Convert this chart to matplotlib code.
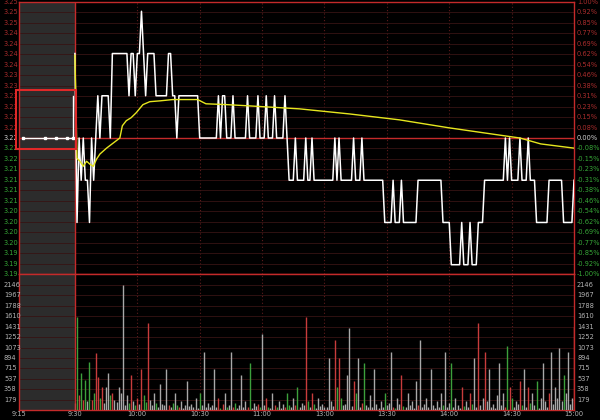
import numpy as np
import matplotlib
matplotlib.use('Agg')
import matplotlib.pyplot as plt
from matplotlib.patches import Rectangle
from matplotlib.transforms import blended_transform_factory as btf

prev_close = 3.22

# pre-market (minutes after 9:15) and prices
pre_times = [1, 7, 10, 13, 14.6, 14.6]
pre_prices = [3.22, 3.22, 3.22, 3.22, 3.22, 3.23]

# minute prices 9:30 .. 15:00 (241 points)
price = [
    3.24, 3.20, 3.22, 3.21, 3.22, 3.21, 3.21, 3.20, 3.22, 3.21,
    3.22, 3.23, 3.22, 3.23, 3.23, 3.23, 3.23, 3.22, 3.24, 3.24,
    3.24, 3.24, 3.24, 3.24, 3.24, 3.24, 3.23, 3.24, 3.24, 3.23,
    3.24, 3.24, 3.25, 3.24, 3.23, 3.24, 3.24, 3.24, 3.24, 3.23,
    3.23, 3.23, 3.23, 3.23, 3.23, 3.24, 3.24, 3.23, 3.23, 3.22,
    3.23, 3.23, 3.23, 3.23, 3.23, 3.23, 3.23, 3.23, 3.23, 3.23,
    3.22, 3.22, 3.22, 3.22, 3.22, 3.22, 3.22, 3.22, 3.22, 3.23,
    3.22, 3.23, 3.23, 3.22, 3.22, 3.22, 3.23, 3.22, 3.22, 3.22,
    3.22, 3.22, 3.22, 3.23, 3.22, 3.22, 3.22, 3.22, 3.23, 3.22,
    3.22, 3.22, 3.23, 3.22, 3.22, 3.22, 3.23, 3.22, 3.22, 3.22,
    3.22, 3.23, 3.22, 3.21, 3.21, 3.21, 3.22, 3.21, 3.21, 3.21,
    3.21, 3.22, 3.21, 3.21, 3.22, 3.21, 3.21, 3.21, 3.21, 3.21,
    3.21, 3.21, 3.21, 3.21, 3.21, 3.22, 3.21, 3.22, 3.21, 3.21,
    3.21, 3.21, 3.21, 3.21, 3.22, 3.21, 3.21, 3.21, 3.22, 3.21,
    3.21, 3.21, 3.21, 3.21, 3.21, 3.21, 3.21, 3.21, 3.21, 3.20,
    3.20, 3.20, 3.20, 3.21, 3.20, 3.20, 3.20, 3.21, 3.20, 3.20,
    3.20, 3.20, 3.20, 3.20, 3.20, 3.21, 3.21, 3.21, 3.21, 3.21,
    3.21, 3.21, 3.21, 3.21, 3.21, 3.21, 3.21, 3.20, 3.20, 3.20,
    3.20, 3.19, 3.19, 3.19, 3.19, 3.19, 3.20, 3.19, 3.19, 3.19,
    3.20, 3.19, 3.19, 3.19, 3.20, 3.20, 3.20, 3.21, 3.21, 3.21,
    3.21, 3.21, 3.21, 3.21, 3.21, 3.21, 3.21, 3.22, 3.21, 3.22,
    3.21, 3.21, 3.21, 3.21, 3.22, 3.21, 3.21, 3.21, 3.22, 3.21,
    3.21, 3.21, 3.20, 3.20, 3.20, 3.20, 3.20, 3.20, 3.21, 3.21,
    3.21, 3.21, 3.21, 3.21, 3.21, 3.20, 3.20, 3.20, 3.20, 3.20,
    3.21,
]

# average price line (minute, price)
avg_min = [0, 1, 2.4, 4, 5.6, 7.2, 8.8, 10.4, 12, 15.2, 18.4, 21.6, 22.8, 24.7,
           27, 29.5, 32.7, 36, 41, 47, 59, 63, 73, 84, 108, 132, 156, 180, 204,
           214, 224, 240]
avg_price = [3.2396, 3.2152, 3.2145, 3.2133, 3.2145, 3.2138, 3.2133, 3.2150,
             3.2162, 3.2176, 3.2188, 3.2200, 3.2229, 3.2241, 3.2248, 3.2260,
             3.2279, 3.2286, 3.2288, 3.2291, 3.2291, 3.2281, 3.2279, 3.2276,
             3.2269, 3.2257, 3.2243, 3.2224, 3.2207, 3.2200, 3.2186, 3.2176]

# minute volumes
volume = [
    120, 1600, 250, 640, 180, 515, 150, 824, 170, 300,
    978, 566, 200, 395, 120, 387, 635, 260, 300, 180,
    140, 400, 300, 2146, 90, 250, 120, 600, 150, 80,
    200, 110, 700, 250, 140, 1500, 180, 90, 300, 120,
    60, 450, 100, 80, 700, 90, 50, 120, 300, 80,
    60, 150, 40, 90, 500, 70, 100, 60, 200, 40,
    300, 80, 1000, 60, 120, 50, 90, 700, 60, 200,
    40, 100, 300, 60, 80, 1000, 50, 120, 40, 90,
    600, 60, 150, 50, 800, 40, 120, 70, 100, 60,
    1300, 90, 200, 60, 40, 300, 80, 50, 150, 40,
    100, 60, 300, 80, 50, 200, 90, 400, 60, 120,
    80, 1600, 150, 60, 300, 100, 40, 200, 70, 100,
    60, 50, 900, 150, 70, 1200, 400, 900, 200, 80,
    100, 600, 1400, 70, 500, 300, 900, 60, 120, 800,
    90, 50, 250, 60, 700, 100, 40, 150, 60, 300,
    80, 120, 1000, 60, 40, 200, 100, 600, 70, 50,
    300, 90, 150, 40, 500, 80, 1200, 60, 100, 200,
    50, 700, 90, 40, 150, 60, 300, 80, 1000, 50,
    120, 800, 60, 200, 90, 40, 400, 70, 150, 60,
    300, 100, 900, 60, 1500, 80, 200, 1000, 150, 700,
    60, 100, 40, 250, 800, 90, 300, 60, 1100, 400,
    200, 60, 150, 100, 500, 90, 700, 60, 400, 120,
    300, 90, 500, 40, 200, 800, 150, 60, 300, 1000,
    100, 400, 200, 1073, 150, 600, 300, 1000, 100, 200,
    1430,
]

time_labels = ['9:15', '9:30', '10:00', '10:30', '11:00', '13:00', '13:30', '14:00', '14:30', '15:00']
time_pos = [-26.9, 0, 30, 60, 90, 120, 150, 180, 210, 240]

left_price_labels = ['3.25', '3.25', '3.25', '3.24', '3.24', '3.24', '3.24', '3.23', '3.23',
                     '3.23', '3.23', '3.22', '3.22', '3.22', '3.22', '3.22', '3.21', '3.21',
                     '3.21', '3.21', '3.20', '3.20', '3.20', '3.20', '3.19', '3.19', '3.19']
right_pct_labels = ['1.00%', '0.92%', '0.85%', '0.77%', '0.69%', '0.62%', '0.54%', '0.46%',
                    '0.38%', '0.31%', '0.23%', '0.15%', '0.08%', '0.00%', '-0.08%', '-0.15%',
                    '-0.23%', '-0.31%', '-0.38%', '-0.46%', '-0.54%', '-0.62%', '-0.69%',
                    '-0.77%', '-0.85%', '-0.92%', '-1.00%']
vol_labels = ['2146', '1967', '1788', '1610', '1431', '1252', '1073', '894', '715', '537', '358', '179']
vol_max = 2146

# ---------------------------------------------------------------------------
W_PX, H_PX = 600, 420
fig = plt.figure(figsize=(6, 4.2), dpi=100, facecolor='black')
L = 19 / W_PX
R = 574 / W_PX
ax = fig.add_axes([L, 1 - 274 / H_PX, R - L, 272 / H_PX])
axv = fig.add_axes([L, 1 - 410 / H_PX, R - L, 136 / H_PX])

RED = '#c42a2a'
GRID = '#361414'
GREEN_T = '#36a636'
RED_T = '#a82c2c'
GRAY_T = '#b4b4b4'
FS = 4.8

for a in (ax, axv):
    a.set_facecolor('black')
    a.set_xlim(-26.9, 240)
    a.set_xticks([])
    a.set_yticks([])
    for s in a.spines.values():
        s.set_color(RED)
        s.set_linewidth(1.0)
    a.axvspan(-26.9, 0, color='#2c2c2c', zorder=0, lw=0)
    a.axvline(0, color=RED, lw=1.0, zorder=3)
    for t in time_pos[2:-1]:
        a.axvline(t, color='#5e1c1c', lw=0.8, ls=(0, (1, 2)), zorder=1)

lo = prev_close * 0.99
hi = prev_close * 1.01
ax.set_ylim(lo, hi)
levels = [prev_close * (1 + k / 1300) for k in range(13, -14, -1)]
for k, lv in zip(range(13, -14, -1), levels):
    if k == 0:
        ax.axhline(lv, color=RED, lw=1.0, zorder=2)
    elif abs(k) < 13:
        ax.axhline(lv, color=GRID, lw=0.6, zorder=1)

vtop = vol_max * 136 / 125
axv.set_ylim(0, vtop)
for j in range(1, 13):
    axv.axhline(vol_max * j / 12, color=GRID, lw=0.6, zorder=1)

# premarket line
pre_x = [-26.9 + t * 26.9 / 15 for t in pre_times]
ax.plot(pre_x, pre_prices, color='white', lw=1.0, zorder=4)
ax.plot(pre_x[:-1], pre_prices[:-1], ls='none', marker='s', ms=2, color='white', zorder=4)

# price and avg
mins = np.arange(len(price))
ax.plot(mins, price, color='white', lw=1.1, zorder=5)
ax.plot(avg_min, avg_price, color='#e6e61e', lw=1.0, zorder=6)

# volume bars
cols = []
prev = prev_close
for p in price:
    if p > prev:
        cols.append('#c83c3c')
    elif p < prev:
        cols.append('#3ca03c')
    else:
        cols.append('#a8a8a8')
    prev = p
axv.vlines(mins, 0, volume, colors=cols, lw=1.0, zorder=4)

# red highlight box over premarket
fig.patches.append(Rectangle((16 / W_PX, 1 - 149 / H_PX), 60 / W_PX, 59 / H_PX,
                             transform=fig.transFigure, fill=False,
                             edgecolor='#e02828', lw=1.5, zorder=10))

# price labels
tl = btf(fig.transFigure, ax.transData)
for k, lv, lab, rlab in zip(range(13, -14, -1), levels, left_price_labels, right_pct_labels):
    c = RED_T if k > 0 else (GREEN_T if k < 0 else '#d0d0d0')
    fig.text(4 / W_PX, lv, lab, transform=tl, color=c, fontsize=FS, ha='left', va='center')
    fig.text(577 / W_PX, lv, rlab, transform=tl, color=c, fontsize=FS, ha='left', va='center')

# volume labels
tv = btf(fig.transFigure, axv.transData)
for j, lab in zip(range(12, 0, -1), vol_labels):
    yv = vol_max * j / 12
    fig.text(4 / W_PX, yv, lab, transform=tv, color=GRAY_T, fontsize=FS, ha='left', va='center')
    fig.text(577 / W_PX, yv, lab, transform=tv, color=GRAY_T, fontsize=FS, ha='left', va='center')

# time labels
tx = btf(axv.transData, fig.transFigure)
for pos, lab in zip(time_pos, time_labels):
    fig.text(pos, 1 - 414 / H_PX, lab, transform=tx, color=GRAY_T, fontsize=FS,
             ha='center', va='center')

fig.savefig('out.png', dpi=100, facecolor='black')
